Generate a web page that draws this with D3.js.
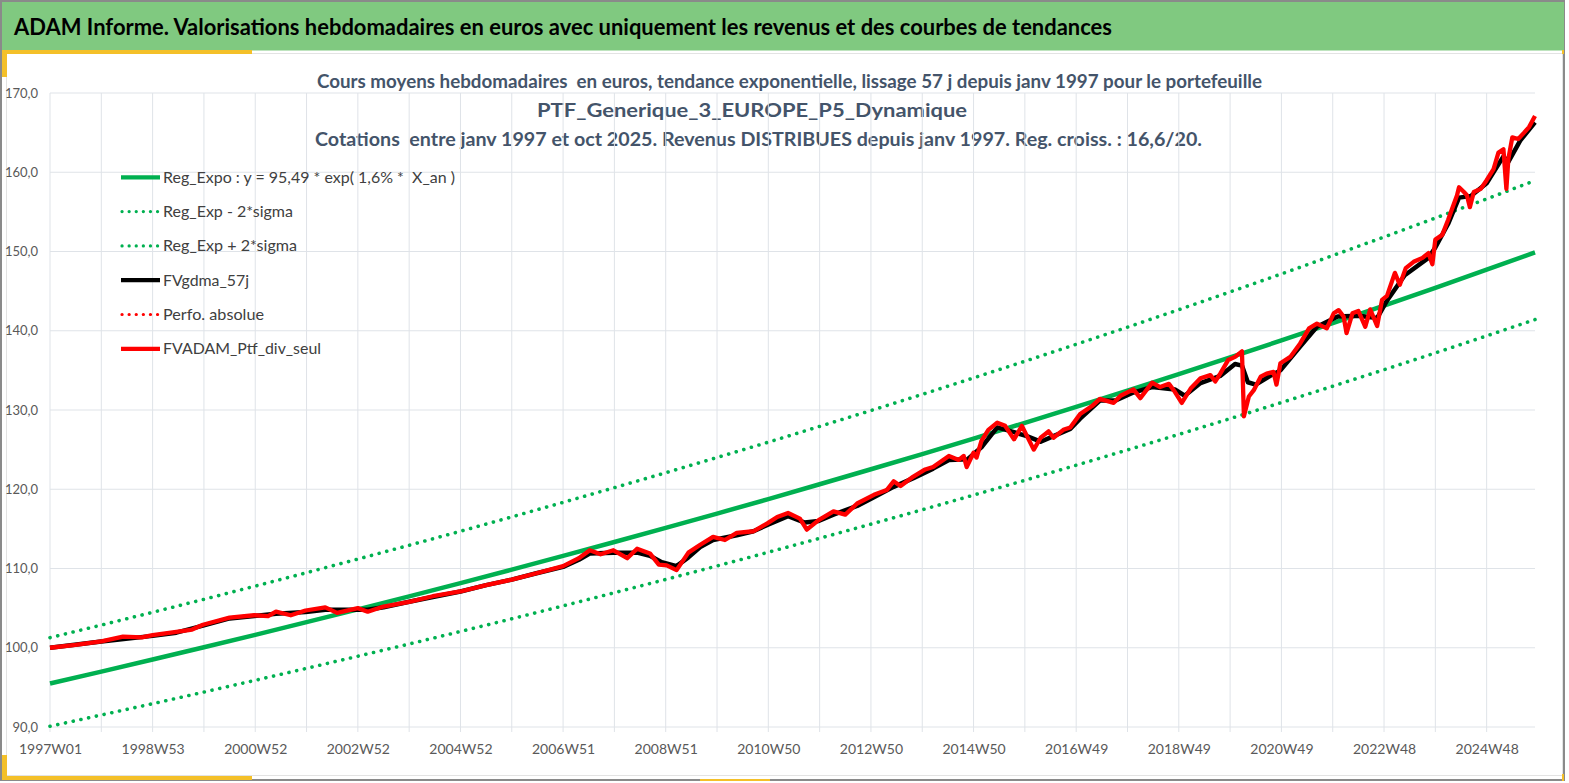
<!DOCTYPE html>
<html>
<head>
<meta charset="utf-8">
<script src="https://cdn.jsdelivr.net/npm/d3@7"></script>
<style>
  html, body { margin: 0; padding: 0; background: #fff; }
  svg { display: block; font-family: Lato, "Noto Sans", sans-serif; }
  text { white-space: pre; }
</style>
</head>
<body>
<svg id="chart" width="1569" height="783"></svg>
<script>
// --- data (x = week index since 1997W01) ---
const tickLabels = ["1997W01", "1998W53", "2000W52", "2002W52", "2004W52", "2006W51", "2008W51",
  "2010W50", "2012W50", "2014W50", "2016W49", "2018W49", "2020W49", "2022W48", "2024W48"];
const yTicks = [90, 100, 110, 120, 130, 140, 150, 160, 170];

const trendWeeks = [0, 52, 104, 156, 208, 260, 312, 364, 416, 468, 520, 572, 624, 676, 728, 780,
  832, 884, 936, 988, 1040, 1092, 1144, 1196, 1248, 1300, 1352, 1404, 1456, 1505];
const regExpo = [95.49, 96.99, 98.51, 100.06, 101.63, 103.23, 104.85, 106.49, 108.16, 109.86, 111.59,
  113.34, 115.12, 116.93, 118.76, 120.63, 122.52, 124.44, 126.40, 128.38, 130.40, 132.44, 134.52,
  136.63, 138.78, 140.96, 143.17, 145.42, 147.70, 149.88];
const regHigh = [101.27, 102.86, 104.47, 106.11, 107.78, 109.47, 111.19, 112.93, 114.70, 116.51, 118.34,
  120.20, 122.08, 124.00, 125.94, 127.93, 129.93, 131.97, 134.05, 136.15, 138.29, 140.45, 142.66,
  144.90, 147.17, 149.49, 151.83, 154.22, 156.64, 158.95];
const regLow = [90.09, 91.51, 92.94, 94.41, 95.89, 97.40, 98.93, 100.47, 102.05, 103.65, 105.28,
  106.94, 108.62, 110.32, 112.05, 113.81, 115.60, 117.41, 119.26, 121.13, 123.03, 124.96, 126.92,
  128.91, 130.94, 133.00, 135.08, 137.20, 139.35, 141.41];

const ptfWeeks = [0, 26, 52, 74, 93, 104, 128, 144, 155, 182, 207, 221, 229, 244, 259, 279, 291, 312,
  322, 338, 364, 388, 416, 442, 468, 493, 520, 536, 547, 558, 571, 585, 595, 608, 617, 625, 635, 647,
  659, 672, 684, 696, 713, 727, 737, 748, 760, 767, 779, 794, 806, 818, 835, 848, 855, 862, 875, 887,
  895, 911, 921, 926, 929, 936, 939, 944, 951, 960, 968, 977, 985, 997, 1004, 1012, 1017, 1027, 1034,
  1044, 1056, 1064, 1078, 1085, 1098, 1105, 1117, 1125, 1134, 1140, 1147, 1156, 1166, 1176, 1181,
  1186, 1194, 1201, 1208, 1210, 1215, 1220, 1227, 1233, 1240, 1243, 1247, 1257, 1267, 1276, 1284,
  1294, 1301, 1306, 1311, 1314, 1320, 1326, 1333, 1338, 1345, 1350, 1355, 1363, 1368, 1374, 1382,
  1391, 1397, 1401, 1404, 1411, 1417, 1421, 1426, 1428, 1433, 1436, 1439, 1443, 1450, 1456, 1463,
  1468, 1473, 1476, 1478, 1482, 1488, 1494, 1499, 1505];
const ptfValues = [100.0, 100.35, 100.8, 101.4, 101.3, 101.6, 102.0, 102.3, 102.9, 103.8, 104.1, 104.0,
  104.55, 104.1, 104.7, 105.1, 104.4, 105.0, 104.55, 105.2, 105.8, 106.5, 107.1, 107.9, 108.6, 109.4,
  110.3, 111.3, 112.3, 111.8, 112.3, 111.3, 112.5, 111.9, 110.5, 110.4, 109.8, 112.0, 113.0, 114.0,
  113.6, 114.5, 114.7, 115.7, 116.5, 117.0, 116.3, 114.9, 116.1, 117.2, 116.8, 118.2, 119.3, 119.9,
  121.0, 120.4, 121.6, 122.5, 122.8, 124.2, 123.7, 124.2, 122.8, 124.6, 124.0, 126.1, 127.5, 128.4,
  128.0, 126.3, 128.0, 125.0, 126.5, 127.3, 126.5, 127.5, 127.8, 129.5, 130.5, 131.4, 130.9, 131.8,
  132.6, 131.5, 133.45, 132.9, 133.3, 132.3, 130.9, 132.7, 134.0, 134.4, 133.6, 134.6, 136.3, 136.7,
  137.4, 129.2, 131.7, 132.5, 134.2, 134.6, 134.8, 133.2, 135.9, 136.7, 138.4, 140.3, 140.9, 140.3,
  142.2, 142.6, 141.8, 139.7, 142.2, 142.5, 140.5, 142.7, 140.6, 143.9, 144.4, 147.3, 145.8, 147.9,
  148.7, 149.2, 149.8, 148.4, 151.5, 152.1, 154.0, 155.4, 157.1, 158.1, 157.5, 157.1, 155.6, 157.5,
  157.9, 159.0, 160.4, 162.5, 162.9, 157.9, 161.7, 164.4, 164.2, 165.0, 165.7, 167.1];

const gdmaWeeks = [0, 52, 104, 128, 155, 182, 207, 229, 259, 279, 300, 322, 338, 364, 388, 416, 442,
  468, 493, 520, 536, 547, 571, 595, 608, 620, 635, 647, 659, 672, 696, 713, 727, 748, 765, 779, 794,
  818, 835, 855, 875, 895, 911, 930, 944, 960, 977, 990, 1004, 1017, 1034, 1044, 1064, 1080, 1098,
  1117, 1140, 1150, 1166, 1186, 1201, 1208, 1214, 1222, 1235, 1247, 1267, 1284, 1305, 1326, 1345,
  1355, 1373, 1397, 1404, 1417, 1428, 1440, 1456, 1473, 1478, 1490, 1505];
const gdmaValues = [100.0, 100.8, 101.5, 101.9, 102.8, 103.7, 104.0, 104.3, 104.5, 104.8, 104.8, 104.8,
  105.1, 105.8, 106.4, 107.1, 107.9, 108.6, 109.4, 110.2, 111.1, 111.9, 112.0, 112.0, 111.6, 110.8,
  110.3, 111.4, 112.7, 113.6, 114.2, 114.7, 115.5, 116.6, 115.8, 116.0, 116.8, 117.9, 119.0, 120.3,
  121.4, 122.6, 123.7, 123.8, 125.3, 127.8, 127.2, 126.7, 126.0, 126.7, 127.6, 128.9, 131.2, 131.2,
  132.2, 132.9, 132.6, 131.8, 133.4, 134.3, 135.8, 135.6, 133.5, 133.2, 134.2, 135.0, 138.0, 140.5,
  141.8, 141.9, 141.6, 143.8, 147.0, 149.2, 150.5, 153.5, 156.8, 157.0, 158.6, 162.0, 161.3, 164.0,
  166.3];

const legendNames = ["Reg_Expo : y = 95,49 * exp( 1,6% *  X_an )", "Reg_Exp - 2*sigma",
  "Reg_Exp + 2*sigma", "FVgdma_57j", "Perfo. absolue", "FVADAM_Ptf_div_seul"];

// --- drawing ---
const svg = d3.select("#chart");
const plotLeft = 50, plotRight = 1535, plotTop = 93, plotBottom = 727;

const x = d3.scaleLinear().domain([0, 1505]).range([plotLeft, plotRight]);
const y = d3.scaleLinear().domain([90, 170]).range([plotBottom, plotTop]);

const fit = (sel, w) => sel.attr("textLength", w).attr("lengthAdjust", "spacingAndGlyphs");

// frame, header band and the yellow corner accents
svg.append("rect").attr("x", 1).attr("y", 1).attr("width", 1563).attr("height", 779)
  .attr("fill", "#fff").attr("stroke", "#8a8a8a").attr("stroke-width", 2);
svg.append("rect").attr("x", 2).attr("y", 2).attr("width", 1562).attr("height", 48.5)
  .attr("fill", "#80c980");
svg.append("rect").attr("x", 6.5).attr("y", 53.5).attr("width", 1556).attr("height", 722)
  .attr("fill", "none").attr("stroke", "#e3e3e3");
const gold = "#f4c029";
[[2, 50, 250, 4], [2, 50, 5, 27], [2, 776, 250, 4], [2, 755, 5, 25],
 [1562, 50, 2, 4], [1562, 774, 2, 7], [700, 779, 70, 2]].forEach(r => {
  svg.append("rect").attr("x", r[0]).attr("y", r[1]).attr("width", r[2]).attr("height", r[3])
    .attr("fill", gold);
});

svg.append("text").attr("x", 14).attr("y", 35).attr("font-size", 22).attr("font-weight", 700)
  .attr("fill", "#000")
  .text("ADAM Informe. Valorisations hebdomadaires en euros avec uniquement les revenus et des courbes de tendances")
  .call(fit, 1098);

// chart titles
const titleColor = "#44546a";
[["Cours moyens hebdomadaires  en euros, tendance exponentielle, lissage 57 j depuis janv 1997 pour le portefeuille", 317, 88, 945],
 ["PTF_Generique_3_EUROPE_P5_Dynamique", 537, 117, 430],
 ["Cotations  entre janv 1997 et oct 2025. Revenus DISTRIBUES depuis janv 1997. Reg. croiss. : 16,6/20.", 315, 146, 887]]
  .forEach(t => {
    svg.append("text").attr("x", t[1]).attr("y", t[2]).attr("font-size", 18).attr("font-weight", 700)
      .attr("fill", titleColor).text(t[0]).call(fit, t[3]);
  });

// grid
const gridColor = "#dfe3e8";
const gridIdx = d3.range(0, 1505, 52);
svg.append("g").selectAll("line").data(yTicks).join("line")
  .attr("x1", plotLeft).attr("x2", plotRight).attr("y1", d => y(d)).attr("y2", d => y(d))
  .attr("stroke", gridColor);
svg.append("g").selectAll("line").data(gridIdx).join("line")
  .attr("x1", d => x(d)).attr("x2", d => x(d)).attr("y1", plotTop).attr("y2", plotBottom + 5)
  .attr("stroke", gridColor);

// axes
const xAxis = d3.axisBottom(x).tickValues(gridIdx).tickSize(0).tickPadding(0)
  .tickFormat((d, i) => (i % 2 ? "" : tickLabels[i / 2]));
svg.append("g").attr("transform", `translate(0,${plotBottom})`).call(xAxis)
  .call(g => g.select(".domain").remove())
  .selectAll("text").attr("dy", 0).attr("y", 27).attr("fill", "#595959")
  .attr("font-size", 14).attr("font-family", "Lato, sans-serif");

const yAxis = d3.axisLeft(y).tickValues(yTicks).tickSize(0).tickPadding(0)
  .tickFormat(d => d.toFixed(1).replace(".", ","));
svg.append("g").attr("transform", `translate(38,0)`).call(yAxis)
  .call(g => g.select(".domain").remove())
  .selectAll("text").attr("fill", "#595959").attr("font-size", 13)
  .attr("font-family", "Lato, sans-serif");

// series
const line = d3.line().x(d => x(d[0])).y(d => y(d[1]));
const green = "#00b050";
const dotted = { dash: "0.1 7.8", width: 3.6 };

const plot = svg.append("g");
plot.append("path").datum(d3.zip(trendWeeks, regLow)).attr("d", line)
  .attr("fill", "none").attr("stroke", green).attr("stroke-width", dotted.width)
  .attr("stroke-linecap", "round").attr("stroke-dasharray", dotted.dash);
plot.append("path").datum(d3.zip(trendWeeks, regHigh)).attr("d", line)
  .attr("fill", "none").attr("stroke", green).attr("stroke-width", dotted.width)
  .attr("stroke-linecap", "round").attr("stroke-dasharray", dotted.dash);
plot.append("path").datum(d3.zip(trendWeeks, regExpo)).attr("d", line)
  .attr("fill", "none").attr("stroke", green).attr("stroke-width", 4.5);
plot.append("path").datum(d3.zip(gdmaWeeks, gdmaValues)).attr("d", line)
  .attr("fill", "none").attr("stroke", "#000").attr("stroke-width", 4.5)
  .attr("stroke-linejoin", "round");
plot.append("path").datum(d3.zip(ptfWeeks, ptfValues)).attr("d", line)
  .attr("fill", "none").attr("stroke", "#ff0000").attr("stroke-width", 4.3)
  .attr("stroke-linejoin", "round");

// legend
const legendStyles = [
  { color: green, dash: null }, { color: green, dash: "0.1 7" }, { color: green, dash: "0.1 7" },
  { color: "#000", dash: null }, { color: "#ff0000", dash: "0.1 7" }, { color: "#ff0000", dash: null }];
const legendWidths = [292, 130, 134, 86, 101, 158];
const legend = svg.append("g").selectAll("g").data(legendNames).join("g")
  .attr("transform", (d, i) => `translate(0,${177.3 + i * 34.3})`);
legend.append("line").attr("x1", (d, i) => legendStyles[i].dash ? 122 : 121).attr("x2", 160)
  .attr("stroke", (d, i) => legendStyles[i].color)
  .attr("stroke-width", (d, i) => legendStyles[i].dash ? 3.2 : 4.2)
  .attr("stroke-linecap", (d, i) => legendStyles[i].dash ? "round" : "butt")
  .attr("stroke-dasharray", (d, i) => legendStyles[i].dash);
legend.append("text").attr("x", 163).attr("y", 5.5).attr("font-size", 16).attr("fill", "#404040")
  .text(d => d).each(function (d, i) { d3.select(this).call(fit, legendWidths[i]); });
</script>
</body>
</html>
